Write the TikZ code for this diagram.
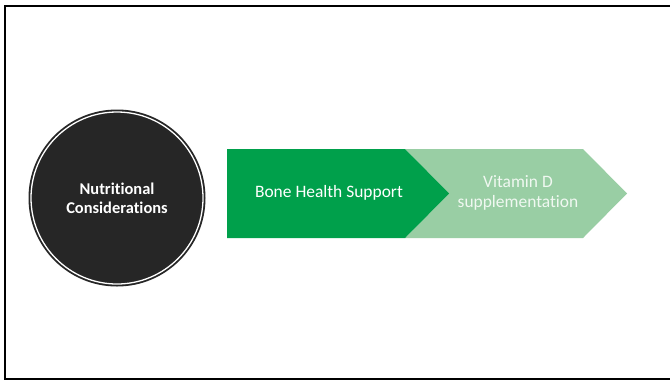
\documentclass[tikz,border=0pt]{standalone}
\usepackage{fontspec}
\setmainfont{Carlito}[Ligatures=NoCommon]
\definecolor{darkgreen}{RGB}{0,160,75}
\definecolor{lightgreen}{RGB}{153,206,164}
\definecolor{circfill}{RGB}{38,38,38}
\begin{document}
\begin{tikzpicture}[x=1bp,y=-1bp,
  lbl/.style={text=white,align=center,inner sep=0pt,font=\fontsize{17.5}{20}\selectfont}]
\useasboundingbox (0,0) rectangle (670,380);
\fill[white] (0,0) rectangle (670,380);
\draw[line width=2bp,black] (5,6) rectangle (680,379);
% circle
\fill[circfill] (117,198) circle (88.5);
\draw[white,line width=1.3bp] (117,198) circle (86);
\node[text=white,align=center,inner sep=0pt,font=\bfseries\fontsize{16.5}{19.5}\selectfont] (nc) at (117,198) {Nutritional\\Considerations};
% chevrons
\fill[lightgreen] (405,149) -- (583,149) -- (627,193.5) -- (583,238) -- (405,238) -- (448,193.5) -- cycle;
\fill[darkgreen] (227,149) -- (405,149) -- (449,193.5) -- (405,238) -- (227,238) -- cycle;
\node[lbl] (bh) at (329,193) {Bone Health Support};
\node[lbl,text=white!85!lightgreen] (vd) at (518,193) {Vitamin D\\supplementation};
\end{tikzpicture}
\end{document}
